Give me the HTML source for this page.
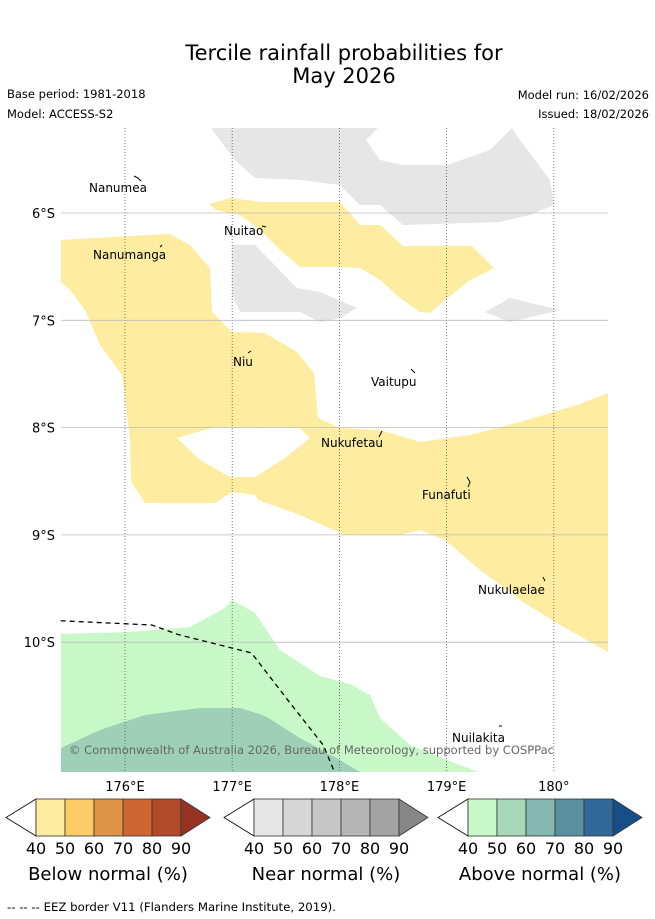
<!DOCTYPE html>
<html><head><meta charset="utf-8"><style>
body{margin:0;background:#fff;font-family:"Liberation Sans","DejaVu Sans",sans-serif;}
svg{display:block}
</style></head><body>
<svg id="chart" width="655" height="919" xmlns="http://www.w3.org/2000/svg" font-family="DejaVu Sans, Liberation Sans, sans-serif">
<text x="344" y="60" font-size="21" text-anchor="middle">Tercile rainfall probabilities for</text>
<text x="344" y="83" font-size="21" text-anchor="middle">May 2026</text>
<text x="7" y="98" font-size="11.5">Base period: 1981-2018</text>
<text x="7" y="118" font-size="11.5">Model: ACCESS-S2</text>
<text x="649" y="99" font-size="11.5" text-anchor="end">Model run: 16/02/2026</text>
<text x="649" y="118" font-size="11.5" text-anchor="end">Issued: 18/02/2026</text>
<g id="map">
<polygon fill="#e6e6e6" points="211,128 378,128 366,140 380,160 403,165 447,165 490,150 512,128 520,140 550,180 554,205 530,215 500,222 403,225 380,205 360,205 340,185 300,180 255,178 235,160"/>
<polygon fill="#e6e6e6" points="232,245 255,245 297,288 320,292 357,308 340,318 320,322 300,312 240,312 232,295"/>
<polygon fill="#e6e6e6" points="485,312 510,298 560,310 510,322"/>
<polygon fill="#feeda0" points="209,204 230,198 262,202 340,202 360,225 380,225 403,246 472,246 494,268 470,280 445,300 430,313 420,312 400,298 380,280 360,268 340,267 300,267 280,250 260,230 240,215 215,210"/>
<polygon fill="#feeda0" points="61,240 130,236 170,234 190,245 210,268 212,312 232,332 265,333 297,352 314,373 318,418 340,428 380,430 420,442 470,435 520,422 580,404 608,393 608,652 560,625 520,600 480,570 445,540 420,530 400,535 345,535 300,515 258,500 255,495 232,492 215,503 145,503 131,482 130,440 122,375 100,345 85,310 70,290 61,282"/>
<polygon fill="#fff" points="177,438 215,427 300,428 310,438 285,458 255,477 230,477 200,460"/>
<polygon fill="#c8f8c8" points="61,634 130,632 190,627 225,608 232,600 255,613 280,650 320,676 350,684 370,695 380,718 410,745 460,765 478,772 61,772"/>
<polygon fill="#9ed0b8" points="61,748 100,730 145,715 200,708 240,708 265,716 300,738 340,760 360,772 61,772"/>
<g id="grid"></g>
<polyline id="eez" fill="none" stroke="#000" stroke-width="1.3" stroke-dasharray="5,4"/>
<g font-size="12" fill="#000">
<text x="89" y="192">Nanumea</text>
<text x="224" y="235">Nuitao</text>
<text x="93" y="259">Nanumanga</text>
<text x="233" y="366">Niu</text>
<text x="371" y="386">Vaitupu</text>
<text x="321" y="447">Nukufetau</text>
<text x="422" y="499">Funafuti</text>
<text x="478" y="594">Nukulaelae</text>
<text x="452" y="742">Nuilakita</text>
</g>
<g stroke="#000" stroke-width="1" fill="none">
<path d="M134,176 l4,2 l3,3"/>
<path d="M262,226 l4,1"/>
<path d="M160,247 l2,-2"/>
<path d="M248,353 l3,-2"/>
<path d="M411,369 l4,4"/>
<path d="M379,437 l3,-6"/>
<path d="M467,477 l3,5 l-2,5"/>
<path d="M543,577 l2,4"/>
<path d="M499,726 l3,0"/>
</g>
<text x="69" y="754" font-size="11.5" fill="#666" textLength="485" lengthAdjust="spacingAndGlyphs">© Commonwealth of Australia 2026, Bureau of Meteorology, supported by COSPPac</text>
</g>
<g id="axes" font-size="13"></g>
<g id="cbars"></g>
<text x="7" y="911" font-size="11.5" textLength="329" lengthAdjust="spacingAndGlyphs">--  --  -- EEZ border V11 (Flanders Marine Institute, 2019).</text>
</svg>
<script>
const lonTicks=[176,177,178,179,180];
const lonLabels=["176°E","177°E","178°E","179°E","180°"];
const latTicks=[6,7,8,9,10];
const latLabels=["6°S","7°S","8°S","9°S","10°S"];
const eezLon=[175.4,176.25,176.5,177.18,177.55,177.85,177.95];
const eezLat=[9.8,9.84,9.93,10.1,10.58,10.96,11.2];
const cbLevels=["40","50","60","70","80","90"];
const cbTitles=["Below normal (%)","Near normal (%)","Above normal (%)"];
const cbColors=[["#feeda0","#fecc66","#e09448","#cf6531","#b04a28","#963322"],
["#e6e6e6","#d6d6d6","#c6c6c6","#b5b5b5","#a3a3a3","#878787"],
["#c8f8c8","#a8d8b8","#85b8b0","#5890a0","#306898","#164f88"]];
const NS="http://www.w3.org/2000/svg";
const X=lon=>125+(lon-176)*107.2;
const Y=lat=>213+(lat-6)*107.3;
function mk(t,a,p,txt){const e=document.createElementNS(NS,t);for(const k in a)e.setAttribute(k,a[k]);if(txt!=null)e.textContent=txt;p.appendChild(e);return e;}
const grid=document.getElementById('grid'),axes=document.getElementById('axes');
lonTicks.forEach((v,i)=>{
 const l=mk('line',{x1:X(v),x2:X(v),y1:128,y2:772,stroke:'#555','stroke-width':0.8,'stroke-dasharray':'1,2'},grid);
 
 
 const t=mk('text',{x:X(v),y:791,'text-anchor':'middle'},axes,lonLabels[i]);
 
 
});
latTicks.forEach((v,i)=>{
 const l=mk('line',{x1:61,x2:608,y1:Y(v),y2:Y(v),stroke:'#bbb','stroke-width':0.8},grid);
 
 
 const t=mk('text',{x:55,y:Y(v)+5,'text-anchor':'end'},axes,latLabels[i]);
 
 
});
document.getElementById('eez').setAttribute('points',eezLon.map((v,i)=>X(v)+','+Y(eezLat[i])).join(' '));
const cb=document.getElementById('cbars');
const starts=[36,254,468];
starts.forEach((x0,b)=>{
 const w=29,y0=799,y1=836,ym=817.5,x1=x0+5*w;
 const lt=mk('polygon',{points:`${x0},${y0} ${x0-30},${ym} ${x0},${y1}`,fill:'#fff',stroke:'#000','stroke-width':0.8},cb);
 
 
 for(let i=0;i<5;i++){
  const r=mk('rect',{x:x0+i*w,y:y0,width:w,height:y1-y0,fill:cbColors[b][i],stroke:'#333','stroke-width':0.8},cb);
  
  
 }
 const rt=mk('polygon',{points:`${x1},${y0} ${x1+29},${ym} ${x1},${y1}`,fill:cbColors[b][5],stroke:'#333','stroke-width':0.8},cb);
 
 
 cbLevels.forEach((s,i)=>{
  const t=mk('text',{x:x0+i*w,y:854,'font-size':16,'text-anchor':'middle'},cb,s);
  
  
 });
 const tt=mk('text',{x:x0+72,y:880,'font-size':18,'text-anchor':'middle'},cb,cbTitles[b]);
 
 
});
</script>
</body></html>
